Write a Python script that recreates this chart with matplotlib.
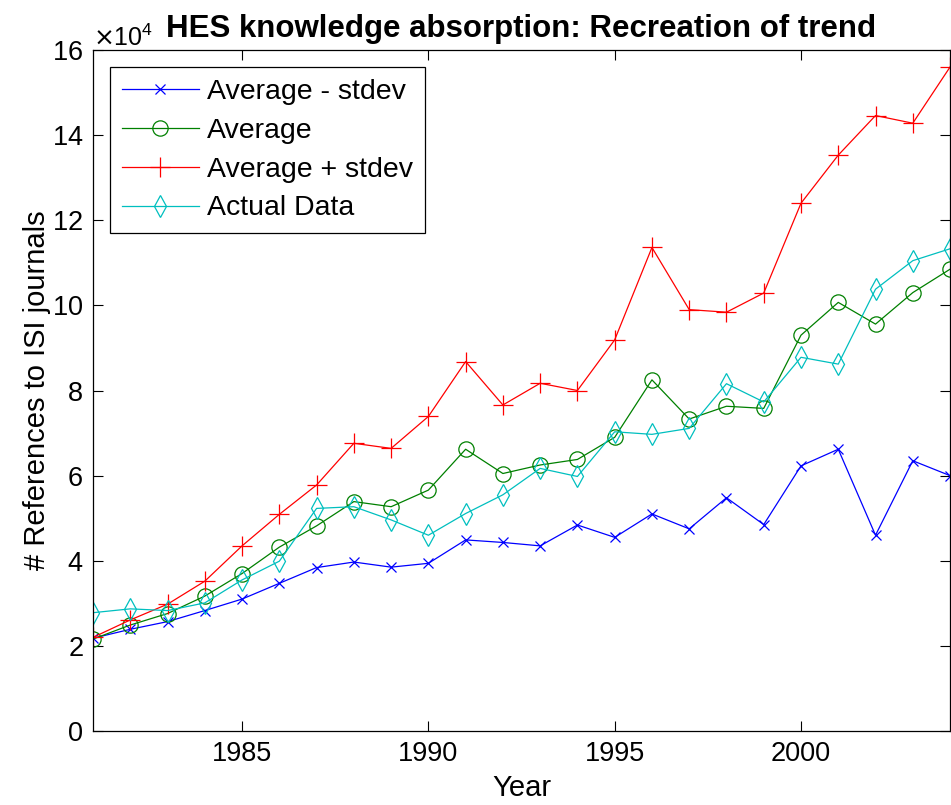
import matplotlib
matplotlib.use("Agg")
import matplotlib.pyplot as plt
from matplotlib.ticker import ScalarFormatter, FixedLocator

years = list(range(1981, 2005))

avg_minus_std = [21800, 23900, 25700, 28300, 31000, 34700, 38400, 39700, 38500, 39400,
                 44900, 44300, 43500, 48400, 45500, 51000, 47500, 54800, 48500, 62300,
                 66200, 46000, 63500, 60000]
average = [21600, 24900, 27600, 31700, 37000, 43200, 48200, 53900, 52700, 56600,
           66200, 60500, 62500, 63800, 69000, 82500, 73300, 76300, 75800, 93000,
           100700, 95600, 103000, 108500]
avg_plus_std = [22000, 26100, 29800, 35200, 43500, 50900, 57800, 67600, 66400, 73900,
                86800, 76600, 81700, 80000, 91900, 113600, 99000, 98400, 102900, 124000,
                135300, 144600, 142800, 156000]
actual = [27800, 28700, 28300, 30100, 35500, 39900, 52300, 52700, 49600, 46000,
          51100, 55500, 61700, 59800, 70300, 69700, 71100, 81600, 77300, 87800,
          86200, 103800, 110500, 113300]

series_labels = ["Average - stdev", "Average", "Average + stdev", "Actual Data"]
x_ticks = [1985, 1990, 1995, 2000]
y_ticks = [0, 20000, 40000, 60000, 80000, 100000, 120000, 140000, 160000]

plt.rcParams["font.family"] = ["Liberation Sans", "DejaVu Sans"]

fig = plt.figure(figsize=(9.51, 8.05), dpi=100)
ax = fig.add_axes([0.0978, 0.0919, 0.9012, 0.846])

lw = 0.9
ax.plot(years, avg_minus_std, color=(0, 0, 1), marker="x", markersize=7,
        markeredgewidth=0.9, linewidth=lw, label=series_labels[0])
ax.plot(years, average, color=(0, 0.5, 0), marker="o", markersize=11,
        markerfacecolor="none", markeredgewidth=0.9, linewidth=lw, label=series_labels[1])
ax.plot(years, avg_plus_std, color=(1, 0, 0), marker="+", markersize=14,
        markeredgewidth=0.9, linewidth=lw, label=series_labels[2])
ax.plot(years, actual, color=(0, 0.75, 0.75), marker="d", markersize=11,
        markerfacecolor="none", markeredgewidth=0.9, linewidth=lw, label=series_labels[3])

ax.set_xlim(1981, 2004)
ax.set_ylim(0, 160000)
ax.xaxis.set_major_locator(FixedLocator(x_ticks))
ax.yaxis.set_major_locator(FixedLocator(y_ticks))

fmt = ScalarFormatter(useMathText=True)
fmt.set_powerlimits((4, 4))
ax.yaxis.set_major_formatter(fmt)
ax.yaxis.get_offset_text().set_fontsize(18)

ax.tick_params(direction="in", top=True, right=True, length=7, width=0.8,
               labelsize=19.5, pad=7)
for s in ax.spines.values():
    s.set_linewidth(0.9)

ax.set_xlabel("Year", fontsize=21, labelpad=5)
ax.set_ylabel("# References to ISI journals", fontsize=21, labelpad=0.5)
ax.set_title("HES knowledge absorption: Recreation of trend", fontsize=22.5,
             fontweight="bold", pad=9)

leg = ax.legend(loc="upper left", fontsize=20.5, frameon=True, fancybox=False,
                edgecolor="black", framealpha=1, handlelength=2.7,
                handletextpad=0.28, borderpad=0.42, labelspacing=0.45,
                borderaxespad=0.6)
leg.get_frame().set_linewidth(0.9)

fig.savefig("out.png", dpi=100)
